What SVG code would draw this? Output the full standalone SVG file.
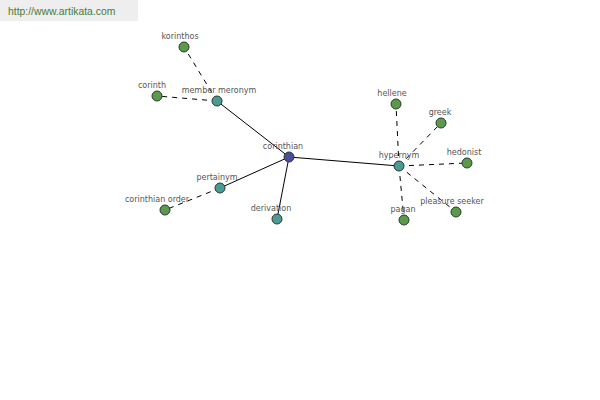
<svg xmlns="http://www.w3.org/2000/svg" width="600" height="400" viewBox="0 0 600 400">
<style>
.lbl{font-family:"DejaVu Sans",Verdana,sans-serif;font-size:8px;fill:#555;text-anchor:middle}
.n circle{stroke:#2a3a2a;stroke-width:1}
.g{fill:#5b9a4c}
.t{fill:#4a9a96}
.b{fill:#4c4c9c}
.solid{stroke:#000;stroke-width:1;fill:none}
.dash{stroke:#000;stroke-width:1;fill:none;stroke-dasharray:5,5}
</style>
<rect x="0" y="0" width="138" height="21" fill="#eeeeee"/>
<text x="8" y="15" style="font-family:'Liberation Sans',Arial,sans-serif;font-size:10.4px;fill:#4a7a3a">http://www.artikata.com</text>
<g id="connectors">
<line class="solid" x1="289" y1="157" x2="217" y2="101"/>
<line class="solid" x1="289" y1="157" x2="220" y2="188"/>
<line class="solid" x1="289" y1="157" x2="277" y2="219"/>
<line class="solid" x1="289" y1="157" x2="399" y2="166"/>
<line class="dash" x1="217" y1="101" x2="184" y2="47"/>
<line class="dash" x1="217" y1="101" x2="157" y2="96"/>
<line class="dash" x1="220" y1="188" x2="165" y2="210"/>
<line class="dash" x1="399" y1="166" x2="396" y2="104"/>
<line class="dash" x1="399" y1="166" x2="441" y2="123"/>
<line class="dash" x1="399" y1="166" x2="467" y2="163"/>
<line class="dash" x1="399" y1="166" x2="456" y2="212"/>
<line class="dash" x1="399" y1="166" x2="404" y2="220"/>
</g>
<g id="korinthos" class="n"><circle class="g" cx="184" cy="47" r="5"/><text class="lbl" x="180" y="39">korinthos</text></g>
<g id="corinth" class="n"><circle class="g" cx="157" cy="96" r="5"/><text class="lbl" x="152" y="88">corinth</text></g>
<g id="member-meronym" class="n"><circle class="t" cx="217" cy="101" r="5"/><text class="lbl" x="219" y="93">member meronym</text></g>
<g id="corinthian" class="n"><circle class="b" cx="289" cy="157" r="5"/><text class="lbl" x="283" y="149">corinthian</text></g>
<g id="pertainym" class="n"><circle class="t" cx="220" cy="188" r="5"/><text class="lbl" x="217" y="180">pertainym</text></g>
<g id="corinthian-order" class="n"><circle class="g" cx="165" cy="210" r="5"/><text class="lbl" x="157" y="202">corinthian order</text></g>
<g id="derivation" class="n"><circle class="t" cx="277" cy="219" r="5"/><text class="lbl" x="271" y="211">derivation</text></g>
<g id="hypernym" class="n"><circle class="t" cx="399" cy="166" r="5"/><text class="lbl" x="399" y="158">hypernym</text></g>
<g id="hellene" class="n"><circle class="g" cx="396" cy="104" r="5"/><text class="lbl" x="392" y="96">hellene</text></g>
<g id="greek" class="n"><circle class="g" cx="441" cy="123" r="5"/><text class="lbl" x="440" y="115">greek</text></g>
<g id="hedonist" class="n"><circle class="g" cx="467" cy="163" r="5"/><text class="lbl" x="464" y="155">hedonist</text></g>
<g id="pleasure-seeker" class="n"><circle class="g" cx="456" cy="212" r="5"/><text class="lbl" x="452" y="204">pleasure seeker</text></g>
<g id="pagan" class="n"><circle class="g" cx="404" cy="220" r="5"/><text class="lbl" x="403" y="212">pagan</text></g>
</svg>
